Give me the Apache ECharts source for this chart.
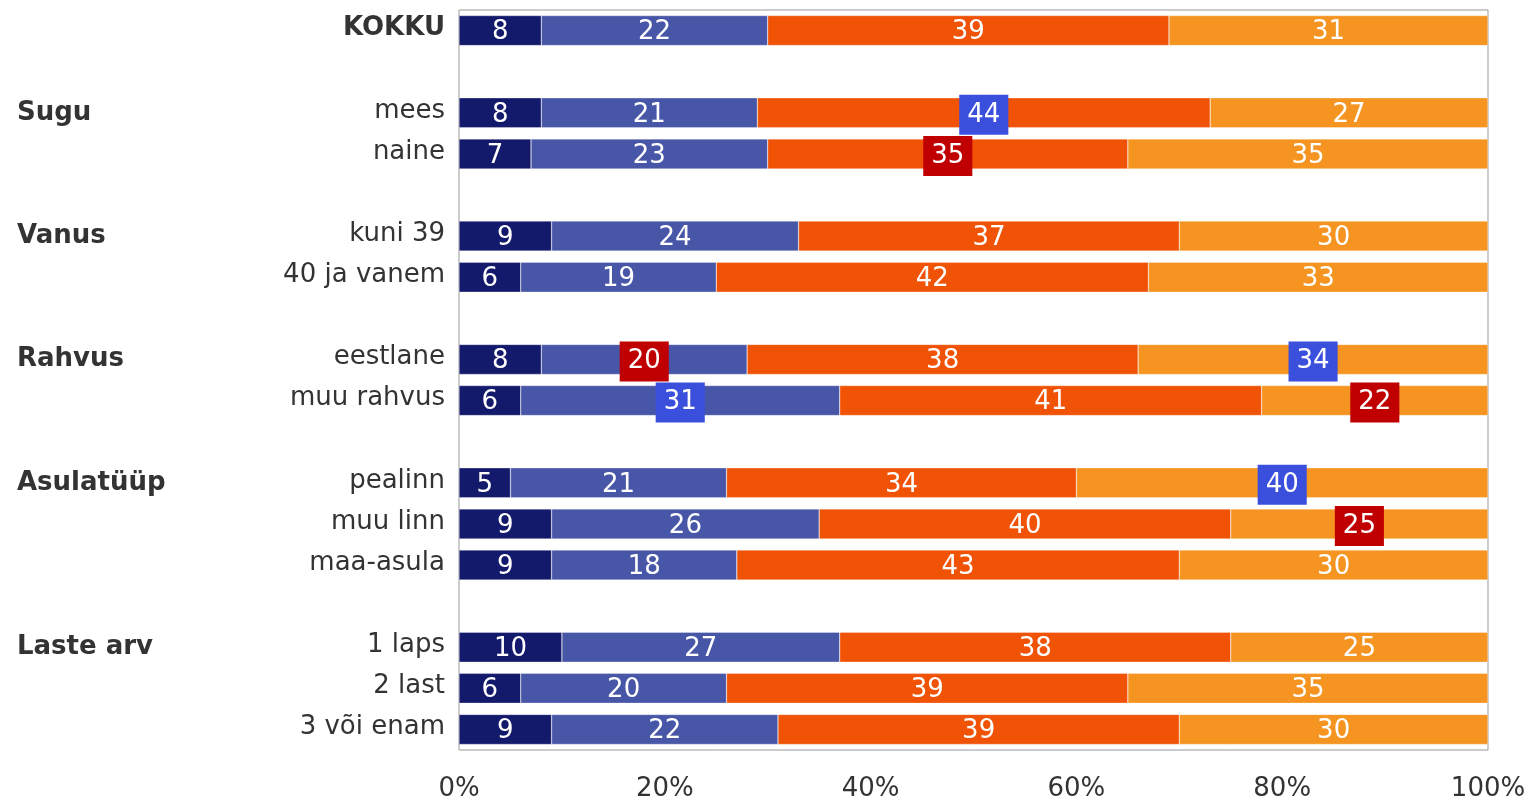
<!DOCTYPE html>
<html>
<head>
<meta charset="utf-8">
<script src="https://cdn.jsdelivr.net/npm/echarts@6/dist/echarts.min.js"></script>
<style>
  html, body { margin: 0; padding: 0; background: #fff; }
  #chart { width: 1532px; height: 799px; }
</style>
</head>
<body>
<div id="chart"></div>
<script>
// rows (blank strings are spacer rows)
const categories = ['KOKKU', '', 'mees', 'naine', '', 'kuni 39', '40 ja vanem', '',
  'eestlane', 'muu rahvus', '', 'pealinn', 'muu linn', 'maa-asula', '',
  '1 laps', '2 last', '3 või enam'];
const groups = ['', '', 'Sugu', '', '', 'Vanus', '', '',
  'Rahvus', '', '', 'Asulatüüp', '', '', '',
  'Laste arv', '', ''];

const seriesNames = ['s1', 's2', 's3', 's4'];
const s1 = [8, null, 8, 7, null, 9, 6, null, 8, 6, null, 5, 9, 9, null, 10, 6, 9];
const s2 = [22, null, 21, 23, null, 24, 19, null, 20, 31, null, 21, 26, 18, null, 27, 20, 22];
const s3 = [39, null, 44, 35, null, 37, 42, null, 38, 41, null, 34, 40, 43, null, 38, 39, 39];
const s4 = [31, null, 27, 35, null, 30, 33, null, 34, 22, null, 40, 25, 30, null, 25, 35, 30];
// significance markers: 'hi' = blue box, 'lo' = red box
const sig1 = [];
const sig2 = [null, null, null, null, null, null, null, null, 'lo', 'hi'];
const sig3 = [null, null, 'hi', 'lo'];
const sig4 = [null, null, null, null, null, null, null, null, 'hi', 'lo', null, 'hi', 'lo'];

const colors = ['#141a6b', '#4856a8', '#f05206', '#f59420'];
const boxColors = { hi: '#3b4fdd', lo: '#c00000' };
const font = '"DejaVu Sans", sans-serif';
const fs = 26;

const chart = echarts.init(document.getElementById('chart'));

function makeData(vals, sig) {
  return vals.map((v, i) => {
    const s = sig[i];
    if (!s) return v;
    return {
      value: v,
      label: { backgroundColor: boxColors[s], padding: [8, 8, 6, 8] }
    };
  });
}

const allVals = [s1, s2, s3, s4];
const allSig = [sig1, sig2, sig3, sig4];

chart.setOption({
  animation: false,
  grid: {
    left: 459, right: 44, top: 10, bottom: 49, outerBoundsMode: 'none', containLabel: false,
    show: true, borderColor: '#999', borderWidth: 1
  },
  xAxis: {
    type: 'value', min: 0, max: 100, interval: 20,
    splitLine: { show: false },
    axisLine: { show: false },
    axisTick: { show: false },
    axisLabel: { formatter: '{value}%', fontFamily: font, fontSize: fs, color: '#333', margin: 26 }
  },
  yAxis: [{
    type: 'category', data: categories, inverse: true,
    axisLine: { show: false }, axisTick: { show: false },
    axisLabel: {
      fontFamily: font, fontSize: fs, color: '#333', margin: 14, padding: [0, 0, 4, 0],
      formatter: v => v === 'KOKKU' ? '{b|' + v + '}' : v,
      rich: { b: { fontFamily: font, fontSize: fs, fontWeight: 'bold', color: '#333' } }
    }
  }, {
    type: 'category', data: groups, inverse: true, position: 'left',
    axisLine: { show: false }, axisTick: { show: false },
    axisLabel: {
      fontFamily: font, fontSize: fs, fontWeight: 'bold', color: '#333',
      align: 'left', margin: 442, padding: [0, 0, 10, 0]
    }
  }],
  series: allVals.map((vals, k) => ({
    name: seriesNames[k],
    type: 'bar', stack: 'total', barWidth: '73%',
    itemStyle: { color: colors[k], borderColor: 'rgba(255,255,255,0.6)', borderWidth: 0.5 },
    label: { show: true, position: 'inside', offset: [0, 2], color: '#fff', fontFamily: font, fontSize: fs },
    data: makeData(vals, allSig[k])
  }))
});
</script>
</body>
</html>
